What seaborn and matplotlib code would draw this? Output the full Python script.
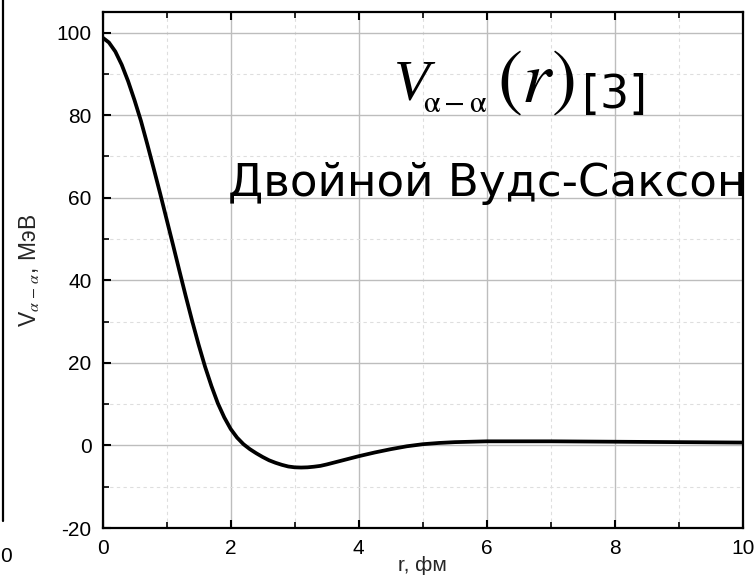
import matplotlib
matplotlib.use("Agg")
import matplotlib.pyplot as plt
from matplotlib.lines import Line2D
from matplotlib.ticker import MultipleLocator
import seaborn as sns
import pandas as pd

# Double Woods-Saxon alpha-alpha potential, V(r) in MeV vs r in fm
r_fm = [0.0, 0.1, 0.2, 0.3, 0.4, 0.5, 0.6, 0.7, 0.8, 0.9, 1.0, 1.1, 1.2,
        1.3, 1.4, 1.5, 1.6, 1.7, 1.8, 1.9, 2.0, 2.1, 2.2, 2.3, 2.4, 2.5,
        2.6, 2.7, 2.8, 2.9, 3.0, 3.1, 3.2, 3.3, 3.4, 3.5, 3.75, 4.0, 4.25,
        4.5, 4.75, 5.0, 5.25, 5.5, 6.0, 6.5, 7.0, 8.0, 9.0, 10.0]
v_mev = [98.8, 97.6, 95.4, 92.2, 88.2, 83.6, 78.6, 72.9, 67.0, 61.0, 54.8, 48.6, 42.3,
         36.1, 30.1, 24.4, 19.1, 14.4, 10.2, 6.8, 4.0, 1.9, 0.3, -0.9, -1.9, -2.8,
         -3.6, -4.2, -4.7, -5.1, -5.3, -5.35, -5.3, -5.15, -4.95, -4.6, -3.6, -2.6, -1.7,
         -0.9, -0.2, 0.3, 0.6, 0.8, 1.0, 1.0, 1.0, 0.9, 0.8, 0.7]

x_ticks = [0, 2, 4, 6, 8, 10]
y_ticks = [-20, 0, 20, 40, 60, 80, 100]

df = pd.DataFrame({"r": r_fm, "V": v_mev})

sns.set_theme(style="white")
plt.rcParams["font.family"] = ["Liberation Sans", "DejaVu Sans"]
plt.rcParams["mathtext.fontset"] = "stix"

fig = plt.figure(figsize=(7.56, 5.76), dpi=100)
ax = fig.add_axes([0.1356, 0.0833, 0.8475, 0.896])

sns.lineplot(data=df, x="r", y="V", ax=ax, color="black", linewidth=2.7,
             sort=False, zorder=5)

ax.set_xlim(0, 10)
ax.set_ylim(-20, 105)
ax.set_xticks(x_ticks)
ax.set_yticks(y_ticks)
ax.set_xticklabels([str(t) for t in x_ticks])
ax.set_yticklabels([str(t) for t in y_ticks])
ax.xaxis.set_minor_locator(MultipleLocator(1))
ax.yaxis.set_minor_locator(MultipleLocator(10))

ax.grid(True, which="major", color="#bdbdbd", linewidth=1.0, linestyle="-")
ax.grid(True, which="minor", color="#dedede", linewidth=0.8, linestyle=(0, (3, 3)))
ax.set_axisbelow(True)

for s in ax.spines.values():
    s.set_color("black")
    s.set_linewidth(1.6)
    s.set_visible(True)

ax.tick_params(which="major", direction="in", length=6, width=1.5, color="black",
               labelsize=15, top=True, bottom=True, left=True, right=False,
               labeltop=False, labelcolor="black")
ax.tick_params(axis="y", which="major", pad=8)
ax.tick_params(axis="x", which="major", pad=8)
ax.tick_params(which="minor", direction="in", length=4, width=1.2, color="black",
               top=True, bottom=True, left=True, right=False)

ax.set_xlabel("r, фм", fontsize=15, labelpad=-1.5)
ax.set_ylabel(r"V$_{\alpha \,-\, \alpha}$, МэВ", fontsize=16.5, labelpad=11)

# formula label: V_{α-α}(r) [3]
ax.text(4.55, 83.7, "V", fontsize=42, family="Liberation Serif", style="italic",
        ha="left", va="baseline", color="black")
ax.text(5.00, 80.8, r"$\mathrm{\alpha - \alpha}$", fontsize=22,
        ha="left", va="baseline", color="black")
ax.text(6.15, 83.2, r"$(r)$", fontsize=54,
        ha="left", va="baseline", color="black")
ax.text(7.48, 81.8, "[3]", fontsize=33, family="DejaVu Sans",
        ha="left", va="baseline", color="black")
ax.text(10.05, 60.3, "Двойной Вудс-Саксон", fontsize=32.5,
        ha="right", va="baseline", color="black", family="DejaVu Sans")

# edge of the neighbouring panel on the left
fig.add_artist(Line2D([0.004, 0.004], [0.095, 1.0], transform=fig.transFigure,
                      color="black", linewidth=1.6))
fig.text(0.0, 0.025, "0", fontsize=15, ha="left", va="baseline", color="black")

fig.savefig("out.png", dpi=100)
